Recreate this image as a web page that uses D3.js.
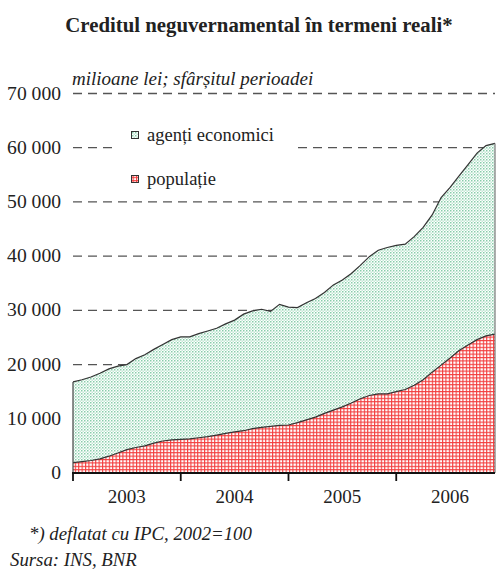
<!DOCTYPE html>
<html><head><meta charset="utf-8">
<script src="https://cdn.jsdelivr.net/npm/d3@7"></script>
<style>body{margin:0;background:#fff}svg{display:block}
svg text{font-family:"Liberation Serif","Times New Roman","DejaVu Serif",serif;}</style>
</head><body>
<svg id="c" width="499" height="570"></svg>
<script>
// monthly data, Jan 2003 - Dec 2006 (milioane lei, real terms)
const months = d3.range(48).map(i => new Date(2003, i, 1));
const populatie = [1900,2100,2300,2600,3100,3700,4300,4700,5000,5500,5900,6100,
  6200,6300,6500,6700,7000,7300,7600,7800,8200,8400,8600,8800,
  8850,9300,9800,10300,11000,11600,12200,12900,13700,14300,14600,14600,
  15000,15400,16200,17200,18600,19900,21200,22600,23600,24600,25300,25600];
const agentiEconomici = [14900,15100,15400,15800,16100,16000,15700,16400,16800,17300,17800,18500,
  18900,18800,19200,19500,19700,20200,20600,21500,21700,21800,21200,22300,
  21750,21200,21600,21900,22300,23100,23400,23900,24600,25600,26500,27000,
  27000,26800,27400,28100,29000,30900,31500,32200,33300,34400,35100,35200];
const yTicks = [0,10000,20000,30000,40000,50000,60000,70000];
const yearLabels = ["2003","2004","2005","2006"];
const seriesNames = ["populație","agenți economici"];

const svg = d3.select("#c");
const L = 73, R = 495, T = 93.5, B = 473;
const x = d3.scaleLinear().domain([0, 47]).range([L, R]);
const y = d3.scaleLinear().domain([0, 70000]).range([B, T]);

const defs = svg.append("defs");
const pg = defs.append("pattern").attr("id","green").attr("patternUnits","userSpaceOnUse")
  .attr("width",3).attr("height",3);
pg.append("rect").attr("width",3).attr("height",3).attr("fill","#fff");
pg.append("rect").attr("x",0).attr("y",0).attr("width",1.5).attr("height",1.5).attr("fill","#88cdaa");
pg.append("rect").attr("x",1.5).attr("y",1.5).attr("width",1.5).attr("height",1.5).attr("fill","#c4e8d5");
const pr = defs.append("pattern").attr("id","red").attr("patternUnits","userSpaceOnUse")
  .attr("width",3.4).attr("height",3.4);
pr.append("rect").attr("width",3.4).attr("height",3.4).attr("fill","#fff");
pr.append("rect").attr("x",0).attr("y",0).attr("width",1.1).attr("height",3.4).attr("fill","#f23c3c");
pr.append("rect").attr("x",0).attr("y",0).attr("width",3.4).attr("height",1.1).attr("fill","#f23c3c");

// title
svg.append("text").attr("x",259).attr("y",32).attr("text-anchor","middle")
  .attr("font-weight","bold").attr("font-size",20.8)
  .attr("fill","#222").text("Creditul neguvernamental în termeni reali*");
svg.append("text").attr("x",72).attr("y",85)
  .attr("font-style","italic").attr("font-size",19)
  .attr("fill","#222").text("milioane lei; sfârșitul perioadei");

// gridlines
svg.append("g").selectAll("line").data(yTicks.filter(d => d > 0)).join("line")
  .attr("x1",L).attr("x2",R).attr("y1",d => y(d)).attr("y2",d => y(d))
  .attr("stroke","#555").attr("stroke-width",1.3).attr("stroke-dasharray","9,6");

// y labels
svg.append("g").selectAll("text").data(yTicks).join("text")
  .attr("x",61).attr("y",d => y(d) + 6).attr("text-anchor","end")
  .attr("font-size",19.6).attr("fill","#222")
  .text(d => d === 0 ? "0" : d3.format(",")(d).replace(/,/g, " "));

// stacked areas
const table = months.map((m, i) => ({i, pop: populatie[i], ag: agentiEconomici[i]}));
const stack = d3.stack().keys(["pop","ag"])(table);
const area = d3.area().x(d => x(d.data.i)).y0(d => y(d[0])).y1(d => y(d[1]));
const line = d3.line().x(d => x(d.data.i)).y(d => y(d[1]));
svg.append("path").datum(stack[1]).attr("d",area).attr("fill","url(#green)");
svg.append("path").datum(stack[0]).attr("d",area).attr("fill","url(#red)");
svg.append("path").datum(stack[1]).attr("d",line).attr("fill","none").attr("stroke","#333").attr("stroke-width",1.2);
svg.append("path").datum(stack[0]).attr("d",line).attr("fill","none").attr("stroke","#333").attr("stroke-width",1.2);
// area side edges
svg.append("line").attr("x1",x(0)).attr("x2",x(0)).attr("y1",y(0)).attr("y2",y(populatie[0]+agentiEconomici[0]))
  .attr("stroke","#444").attr("stroke-width",1.2);
svg.append("line").attr("x1",x(47)).attr("x2",x(47)).attr("y1",y(0)).attr("y2",y(populatie[47]+agentiEconomici[47]))
  .attr("stroke","#777").attr("stroke-width",1.2);

// x axis
const tickIdx = [0,12,24,36];
svg.append("line").attr("x1",L-1).attr("x2",R).attr("y1",B).attr("y2",B).attr("stroke","#111").attr("stroke-width",2);
svg.append("g").selectAll("line").data(tickIdx).join("line")
  .attr("x1",d => x(d)).attr("x2",d => x(d)).attr("y1",B).attr("y2",B+8)
  .attr("stroke","#111").attr("stroke-width",1.8);
svg.append("g").selectAll("text").data(yearLabels).join("text")
  .attr("x",(d,i) => x(i*12 + 6)).attr("y",503).attr("text-anchor","middle")
  .attr("font-size",19).attr("fill","#222").text(d => d);

// legend
const lg = svg.append("g");
lg.append("rect").attr("x",112).attr("y",118).attr("width",186).attr("height",76).attr("fill","#fff");
const items = [{name: seriesNames[1], fill: "url(#green)", y: 135}, {name: seriesNames[0], fill: "url(#red)", y: 179}];
items.forEach(it => {
  lg.append("rect").attr("x",131.5).attr("y",it.y - 3.5).attr("width",7).attr("height",7)
    .attr("fill",it.fill).attr("stroke","#333").attr("stroke-width",1);
  lg.append("text").attr("x",147).attr("y",it.y + 6)
    .attr("font-size",18.5).attr("fill","#222").text(it.name);
});

// footnotes
svg.append("text").attr("x",29).attr("y",540).attr("font-style","italic")
  .attr("font-size",18.8).attr("fill","#222").text("*) deflatat cu IPC, 2002=100");
svg.append("text").attr("x",10).attr("y",566).attr("font-style","italic")
  .attr("font-size",18.8).attr("fill","#222").text("Sursa: INS, BNR");
</script>
</body></html>
